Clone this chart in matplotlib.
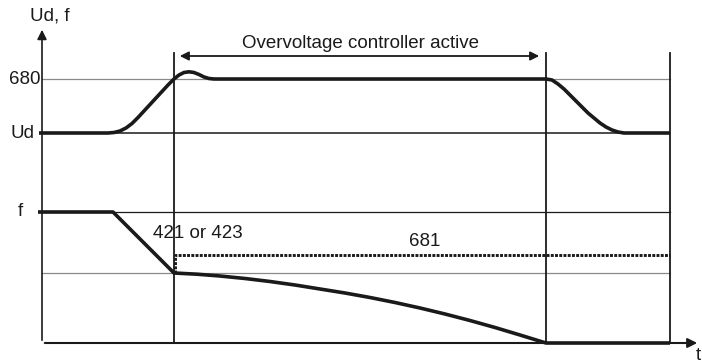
import matplotlib
matplotlib.use("Agg")
import matplotlib.pyplot as plt

plt.rcParams['font.family'] = ['Liberation Sans', 'DejaVu Sans']

# schematic levels (arbitrary units)
lvl_680 = 264
lvl_ud = 210
lvl_f = 131
lvl_681 = 88
lvl_fmin = 70

# time marks
t_on = 132
t_off = 504
t_end = 628

# DC link voltage curve
t_ud = [-3, 66, 72, 78, 84, 90, 96, 102, 108, 114, 120, 126, 132, 137, 142, 147, 152,
        157, 162, 167, 172,
        504, 510, 516, 522, 528, 534, 540, 546, 552, 558, 564, 570, 576, 582, 628]
ud = [210, 210, 210.5, 212, 215, 219.5, 225.5, 232, 238.5, 245, 251.5, 258, 264, 268,
      270.5, 271.2, 270.5, 268.5, 266, 264.5, 264,
      264, 263, 259, 254, 248, 242, 236, 230, 225, 220, 216, 213, 211, 210, 210]

# frequency curve
t_f = [-4, 71, 132, 155, 178, 203, 228, 253, 278, 303, 328, 353, 378, 403, 428, 453,
       478, 504, 628]
f = [131, 131, 70, 68.8, 67, 64.5, 61.5, 58, 54, 50, 45.5, 40.5, 35, 29, 22.5, 15.5,
     8, 0, 0]

fig = plt.figure(figsize=(7.02, 3.63), dpi=100)
ax = fig.add_axes([0, 0, 1, 1])
ax.set_xlim(-42, 660)
ax.set_ylim(-20, 343)
ax.axis("off")

ink = "#1a1a1a"
fs = 13.5

# reference lines
ax.plot([0, t_end], [lvl_680, lvl_680], color="#8a8a8a", lw=0.9)
ax.plot([0, t_end], [lvl_ud, lvl_ud], color=ink, lw=1.1)
ax.plot([0, t_end], [lvl_f, lvl_f], color=ink, lw=0.9)
ax.plot([0, t_end], [lvl_fmin, lvl_fmin], color="#8a8a8a", lw=0.9)

# vertical markers
for tv in [t_on, t_off, t_end]:
    ax.plot([tv, tv], [0, 290], color=ink, lw=1.3)

# 681 dotted line
ax.plot([t_on + 1, t_on + 1, t_end], [lvl_fmin, lvl_681, lvl_681],
        color=ink, lw=2.1, dashes=(1, 0.45))

# curves
ax.plot(t_ud, ud, color=ink, lw=2.6, solid_capstyle="butt", solid_joinstyle="round")
ax.plot(t_f, f, color=ink, lw=2.6, solid_capstyle="butt", solid_joinstyle="round")

# axes with arrows
ax.annotate("", xy=(0, 316), xytext=(0, 0),
            arrowprops=dict(arrowstyle="-|>", color=ink, lw=1.2, mutation_scale=14))
ax.annotate("", xy=(658, 0), xytext=(0, 0),
            arrowprops=dict(arrowstyle="-|>", color=ink, lw=1.5, mutation_scale=14))

# active range arrow
ax.annotate("", xy=(t_on + 3, 287), xytext=(t_off - 4, 287),
            arrowprops=dict(arrowstyle="<|-|>", color=ink, lw=1.3, mutation_scale=13))
ax.text((t_on + t_off) / 2, 300, "Overvoltage controller active", ha="center", va="center",
        fontsize=fs, color=ink)

# labels
ax.text(-12, 327, "Ud, f", ha="left", va="center", fontsize=fs, color=ink)
ax.text(-2, lvl_680, "680", ha="right", va="center", fontsize=fs, color=ink)
ax.text(-7, lvl_ud, "Ud", ha="right", va="center", fontsize=fs, color=ink)
ax.text(-22, lvl_f, "f", ha="center", va="center", fontsize=fs, color=ink)
ax.text(156, 110, "421 or 423", ha="center", va="center", fontsize=fs, color=ink)
ax.text(383, 101, "681", ha="center", va="center", fontsize=fs, color=ink)
ax.text(656, -13, "t", ha="center", va="center", fontsize=fs, color=ink)

fig.savefig("out.png", dpi=100)
